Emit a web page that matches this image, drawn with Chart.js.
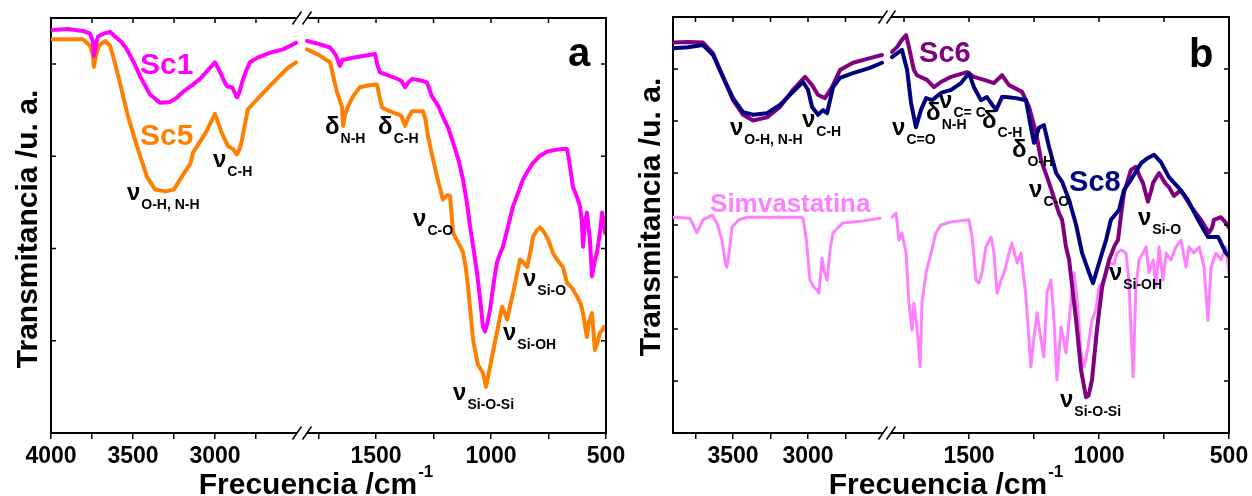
<!DOCTYPE html>
<html>
<head>
<meta charset="utf-8">
<script src="https://cdn.jsdelivr.net/npm/chart.js@4.4.0/dist/chart.umd.min.js"></script>
<style>
  html, body { margin: 0; padding: 0; background: #fff; }
  #wrap { position: relative; width: 1252px; height: 496px; overflow: hidden; }
  canvas { position: absolute; top: 0; }
</style>
</head>
<body>
<div id="wrap">
  <canvas id="panelA" width="626" height="496" style="left:0"></canvas>
  <canvas id="panelB" width="626" height="496" style="left:626px"></canvas>
</div>
<script>
const FONT = '"Liberation Sans", Arial, Helvetica, sans-serif';

// ---- FTIR spectra: [wavenumber (cm-1), transmittance (a.u.)] ----
const sc1 = [
  [4000,4.37],[3900,4.38],[3805,4.36],[3762,4.33],[3745,4.25],[3738,4.09],[3725,4.22],[3713,4.30],
  [3680,4.33],[3640,4.35],[3610,4.30],[3570,4.24],[3537,4.16],[3490,4.00],[3457,3.87],[3420,3.75],
  [3396,3.67],[3335,3.58],[3274,3.59],[3230,3.64],[3195,3.70],[3140,3.77],[3091,3.84],[3040,3.94],
  [3000,4.02],[2970,3.92],[2945,3.82],[2927,3.76],[2896,3.75],[2866,3.64],[2850,3.70],[2835,3.80],
  [2810,3.93],[2787,4.02],[2740,4.07],[2683,4.11],[2630,4.14],[2585,4.16],[2540,4.20],[2506,4.23],
  [1800,4.25],[1750,4.22],[1700,4.18],[1675,4.10],[1657,3.98],[1645,4.05],[1635,4.05],[1600,4.07],
  [1550,4.09],[1504,4.11],[1495,4.00],[1483,3.91],[1450,3.88],[1426,3.86],[1390,3.82],[1374,3.75],
  [1360,3.80],[1343,3.84],[1300,3.82],[1278,3.80],[1257,3.65],[1230,3.55],[1209,3.43],[1185,3.30],
  [1165,3.15],[1140,2.95],[1122,2.75],[1105,2.50],[1091,2.24],[1075,1.98],[1061,1.74],[1045,1.40],
  [1035,1.15],[1026,1.10],[1015,1.20],[1004,1.34],[990,1.60],[974,1.85],[960,1.95],[948,2.02],
  [925,2.25],[904,2.46],[880,2.62],[861,2.75],[840,2.84],[817,2.93],[790,3.00],[757,3.05],
  [720,3.07],[690,3.08],[670,3.08],[660,2.95],[644,2.67],[625,2.55],[613,2.46],[605,2.30],
  [600,2.02],[590,2.30],[583,2.39],[570,2.10],[561,1.70],[550,1.85],[539,1.96],[525,2.20],
  [517,2.39],[510,2.30],[504,2.17],[500,2.20]
];
const sc5 = [
  [4000,4.27],[3900,4.27],[3805,4.27],[3762,4.20],[3745,4.10],[3738,3.97],[3725,4.10],[3707,4.20],
  [3670,4.25],[3640,4.20],[3622,4.09],[3580,3.80],[3530,3.43],[3476,3.11],[3415,2.78],[3366,2.64],
  [3300,2.62],[3250,2.64],[3213,2.75],[3150,2.92],[3134,3.04],[3055,3.26],[3000,3.46],[2960,3.26],
  [2921,3.11],[2890,3.08],[2866,3.02],[2850,3.08],[2835,3.18],[2800,3.51],[2726,3.65],[2646,3.80],
  [2561,3.95],[2506,4.02],
  [1800,4.16],[1750,4.10],[1700,4.02],[1670,3.70],[1648,3.54],[1643,3.33],[1635,3.45],[1622,3.54],
  [1600,3.65],[1570,3.75],[1530,3.77],[1496,3.78],[1485,3.65],[1474,3.53],[1440,3.49],[1409,3.46],
  [1390,3.44],[1374,3.33],[1360,3.42],[1343,3.49],[1296,3.49],[1285,3.40],[1274,3.22],[1255,3.00],
  [1235,2.78],[1209,2.53],[1190,2.58],[1178,2.57],[1165,2.17],[1140,2.05],[1122,1.96],[1110,1.80],
  [1100,1.59],[1078,1.01],[1057,0.74],[1035,0.65],[1028,0.58],[1022,0.50],[1012,0.62],[1004,0.72],
  [990,0.90],[974,1.09],[952,1.37],[940,1.30],[930,1.23],[915,1.40],[904,1.52],[874,1.88],
  [860,1.85],[843,1.80],[830,1.95],[817,2.13],[800,2.20],[787,2.23],[770,2.18],[752,2.10],
  [730,1.95],[713,1.88],[687,1.80],[670,1.63],[650,1.58],[626,1.48],[610,1.40],[600,1.30],
  [583,1.04],[575,1.20],[561,1.30],[548,0.90],[535,1.00],[526,1.09],[515,1.12],[509,1.15],[500,1.12]
];
const sc6 = [
  [3900,7.51],[3800,7.52],[3700,7.51],[3633,7.30],[3567,6.85],[3500,6.40],[3433,6.12],[3367,6.01],
  [3273,6.07],[3187,6.27],[3100,6.60],[3020,6.85],[2973,6.69],[2933,6.50],[2887,6.44],[2840,6.65],
  [2787,6.98],[2700,7.12],[2587,7.21],[2507,7.27],
  [1796,7.33],[1777,7.42],[1758,7.56],[1742,7.65],[1731,7.42],[1712,6.98],[1700,6.88],[1662,6.79],
  [1635,6.65],[1608,6.75],[1569,6.85],[1508,6.94],[1481,6.85],[1442,6.79],[1404,6.73],[1373,6.88],
  [1346,6.69],[1296,6.56],[1269,6.27],[1242,5.77],[1223,5.25],[1192,4.81],[1154,4.23],[1142,4.10],
  [1127,3.58],[1115,3.33],[1088,2.17],[1069,1.21],[1050,0.69],[1040,0.72],[1027,1.02],[1008,1.98],
  [988,2.81],[961,3.33],[940,3.60],[927,3.71],[915,4.20],[904,4.62],[877,5.06],[858,5.12],
  [845,4.95],[831,4.81],[812,4.45],[800,4.65],[792,4.81],[769,5.00],[745,4.80],[731,4.73],
  [712,4.56],[685,4.67],[646,4.35],[608,4.10],[577,3.85],[565,3.95],[558,4.10],[531,4.15],
  [512,4.04],[500,3.95]
];
const sc8 = [
  [3900,7.40],[3800,7.42],[3700,7.46],[3633,7.27],[3567,6.85],[3500,6.44],[3433,6.17],[3367,6.12],
  [3273,6.15],[3187,6.31],[3100,6.56],[3033,6.75],[3000,6.60],[2973,6.27],[2933,6.12],[2900,6.21],
  [2873,6.15],[2833,6.65],[2787,6.83],[2700,6.92],[2587,7.02],[2507,7.12],
  [1796,7.23],[1758,7.37],[1738,6.98],[1723,6.35],[1704,5.88],[1685,6.21],[1665,6.44],[1642,6.40],
  [1608,6.54],[1569,6.60],[1531,6.73],[1500,6.92],[1481,6.65],[1454,6.40],[1431,6.46],[1396,6.21],
  [1373,6.46],[1358,6.46],[1319,6.44],[1281,6.40],[1262,5.88],[1250,5.58],[1231,5.87],[1212,5.92],
  [1192,5.50],[1165,5.00],[1142,4.83],[1115,4.48],[1088,4.00],[1065,3.46],[1038,3.08],[1023,2.88],
  [1000,3.27],[973,3.71],[954,4.10],[923,4.29],[904,4.67],[877,4.87],[838,5.19],[812,5.29],
  [788,5.35],[762,5.21],[731,4.92],[696,4.73],[658,4.48],[619,4.10],[581,3.77],[542,3.77],
  [512,3.46],[500,3.40]
];
const simvastatina = [
  [3900,4.15],[3787,4.13],[3740,3.85],[3700,4.10],[3640,4.19],[3607,4.04],[3573,3.70],[3550,3.25],
  [3540,3.19],[3520,3.60],[3507,3.96],[3460,4.10],[3407,4.15],[3200,4.15],[3040,4.15],[3033,4.13],
  [3010,3.70],[2987,2.94],[2960,2.80],[2940,2.75],[2927,2.69],[2907,3.36],[2890,3.10],[2873,2.94],
  [2853,3.52],[2833,3.85],[2767,4.04],[2653,4.07],[2520,4.13],
  [1796,4.15],[1781,4.23],[1769,3.71],[1758,3.85],[1742,3.46],[1731,2.50],[1719,1.98],[1712,2.50],
  [1700,2.04],[1688,1.27],[1681,2.50],[1665,3.08],[1646,3.46],[1627,3.85],[1608,4.00],[1569,4.06],
  [1500,4.10],[1488,3.77],[1473,2.94],[1462,2.88],[1450,3.08],[1435,3.58],[1415,3.77],[1404,3.46],
  [1392,2.69],[1385,2.80],[1377,2.94],[1365,3.08],[1346,3.46],[1335,3.65],[1315,3.27],[1300,3.46],
  [1281,2.62],[1262,1.27],[1250,1.85],[1238,2.31],[1223,1.79],[1212,1.46],[1200,2.69],[1185,2.94],
  [1173,2.17],[1162,1.02],[1146,2.04],[1127,1.54],[1115,2.17],[1096,3.08],[1085,2.62],[1069,1.54],
  [1058,1.27],[1046,1.54],[1027,2.17],[1012,2.37],[1000,2.81],[981,2.94],[961,3.27],[942,3.25],
  [931,3.46],[915,3.52],[896,3.46],[885,2.94],[869,1.08],[858,2.81],[846,3.33],[831,3.46],
  [819,3.58],[808,3.08],[792,3.33],[781,2.81],[769,3.58],[754,2.94],[742,3.46],[723,3.33],
  [704,3.58],[685,3.71],[665,3.19],[654,3.58],[635,3.46],[615,3.58],[596,3.19],[581,2.17],
  [569,3.19],[550,3.46],[531,3.33],[512,3.58],[500,3.08]
];

// ---- axis ticks ----
const ticksA  = [4000,3750,3500,3250,3000,2750,1750,1500,1250,1000,750,500];
const labelsA = [4000,3500,3000,1500,1000,500];
const ticksB  = [3750,3500,3250,3000,2750,1750,1500,1250,1000,750,500];
const labelsB = [3500,3000,1500,1000,500];

// broken x axis: [high, low, start fraction, end fraction] of the plot width
const segmentsA = [[4000,2500,0,0.4432],[1800,500,0.4613,1]];
const segmentsB = [[3900,2500,0,0.3777],[1800,500,0.3921,1]];

// band assignments: [symbol, subscript, wavenumber, transmittance]
const bandsA = [
  ['ν','O-H, N-H',3537,2.53],['ν','C-H',3012,2.88],['δ','N-H',1722,3.24],['δ','C-H',1491,3.24],
  ['ν','C-O',1339,2.24],['ν','Si-O',861,1.59],['ν','Si-OH',948,1.01],['ν','Si-O-Si',1165,0.36]
];
const bandsB = [
  ['ν','O-H, N-H',3520,5.73],['ν','C-H',3040,5.88],['ν','C=O',1796,5.73],['δ','N-H',1665,6.02],
  ['ν','C= C',1615,6.25],['δ','C-H',1450,5.87],['δ','O-H',1335,5.31],['ν','C-O',1269,4.54],
  ['ν','Si-O',850,4.00],['ν','Si-OH',962,2.94],['ν','Si-O-Si',1150,0.50]
];

// series names drawn inside the plots: [text, colour, wavenumber, transmittance, size]
const namesA = [['Sc1','#ff00ff',3457,3.89,30],['Sc5','#ff8000',3457,3.12,30],['a','#000',665,3.98,40]];
const namesB = [['Sc6','#800080',1692,7.13,29],['Sc8','#000080',1115,4.65,29],
                ['Simvastatina','#ff80ff',3653,4.25,26],['b','#000',654,7.04,40]];

// Linear scale whose range is split into separate segments (axis break)
class BrokenScale extends Chart.LinearScale {
  getPixelForValue(value) {
    if (value === null || value === undefined || isNaN(value)) return NaN;
    const segs = this.options.segments;
    const w = this.right - this.left;
    for (const [hi, lo, f0, f1] of segs) {
      if (value <= hi && value >= lo) {
        return this.left + (f0 + (hi - value) / (hi - lo) * (f1 - f0)) * w;
      }
    }
    return NaN;
  }
}
BrokenScale.id = 'broken';
BrokenScale.defaults = Chart.LinearScale.defaults;
Chart.register(BrokenScale);

// insert a null point where the spectrum jumps across the axis break
function toPoints(pairs, segs) {
  const out = [];
  let prev = -1;
  pairs.forEach(([x, y]) => {
    const s = segs.findIndex(([hi, lo]) => x <= hi && x >= lo);
    if (prev !== -1 && s !== prev) out.push({ x: (segs[prev][1] + segs[s][0]) / 2, y: null });
    out.push({ x, y });
    prev = s;
  });
  return out;
}

function decor(cfg) {
  return {
    id: 'decor',
    afterDraw(chart) {
      const { ctx, chartArea: a, scales: { x, y } } = chart;
      ctx.save();
      ctx.strokeStyle = '#000';
      ctx.lineWidth = 2;
      // top and right frame
      ctx.beginPath();
      ctx.moveTo(a.left - 1, a.top);
      ctx.lineTo(a.right, a.top);
      ctx.lineTo(a.right, a.bottom + 1);
      ctx.stroke();
      // inward ticks on the top, left and right sides
      ctx.lineWidth = 1.5;
      ctx.beginPath();
      x.ticks.forEach(t => {
        const px = x.getPixelForValue(t.value);
        ctx.moveTo(px, a.top); ctx.lineTo(px, a.top + 5);
      });
      for (let v = 1; v < cfg.yMax; v++) {
        const py = y.getPixelForValue(v);
        ctx.moveTo(a.left, py); ctx.lineTo(a.left + 5, py);
        ctx.moveTo(a.right, py); ctx.lineTo(a.right - 5, py);
      }
      ctx.stroke();
      // axis break marks
      const x1 = x.getPixelForValue(cfg.segments[0][1]);
      const x2 = x.getPixelForValue(cfg.segments[1][0]);
      [a.top, a.bottom].forEach(yy => {
        ctx.fillStyle = '#fff';
        ctx.fillRect(x1, yy - 3, x2 - x1, 6);
        ctx.beginPath();
        [x1, x2].forEach(xx => { ctx.moveTo(xx - 4.5, yy + 6.5); ctx.lineTo(xx + 4.5, yy - 6.5); });
        ctx.lineWidth = 1.5;
        ctx.stroke();
      });

      ctx.fillStyle = '#000';
      ctx.textBaseline = 'alphabetic';
      // y title
      ctx.save();
      ctx.translate(cfg.yTitle[0], cfg.yTitle[1]);
      ctx.rotate(-Math.PI / 2);
      ctx.textAlign = 'center';
      ctx.font = `bold 30px ${FONT}`;
      ctx.fillText('Transmitancia /u. a.', 0, 0);
      ctx.restore();
      // x title with superscript
      ctx.textAlign = 'left';
      ctx.font = `bold 30px ${FONT}`;
      const main = 'Frecuencia /cm';
      const w1 = ctx.measureText(main).width;
      ctx.font = `bold 17px ${FONT}`;
      const w2 = ctx.measureText('-1').width;
      const sx = cfg.xTitle[0] - (w1 + w2 + 1) / 2;
      ctx.font = `bold 30px ${FONT}`;
      ctx.fillText(main, sx, cfg.xTitle[1]);
      ctx.font = `bold 17px ${FONT}`;
      ctx.fillText('-1', sx + w1 + 1, cfg.xTitle[1] - 17);

      // series names and panel letter
      cfg.names.forEach(([txt, col, wn, v, size]) => {
        ctx.fillStyle = col;
        ctx.font = `bold ${size}px ${FONT}`;
        ctx.fillText(txt, x.getPixelForValue(wn), y.getPixelForValue(v));
      });
      // band assignments
      ctx.fillStyle = '#000';
      cfg.bands.forEach(([sym, sub, wn, v]) => {
        const px = x.getPixelForValue(wn), py = y.getPixelForValue(v);
        ctx.font = `bold 24px ${FONT}`;
        ctx.fillText(sym, px, py);
        const ws = ctx.measureText(sym).width;
        ctx.font = `bold 14px ${FONT}`;
        ctx.fillText(sub, px + ws + 1, py + 9);
      });
      ctx.restore();
    }
  };
}

function makePanel(id, cfg) {
  return new Chart(document.getElementById(id), {
    type: 'line',
    data: {
      datasets: cfg.series.map(s => ({
        label: s.name,
        data: toPoints(s.values, cfg.segments),
        borderColor: s.color,
        borderWidth: s.width,
        pointRadius: 0,
        tension: 0,
        fill: false,
        spanGaps: false,
        borderJoinStyle: 'round',
        borderCapStyle: 'round'
      }))
    },
    options: {
      responsive: false,
      animation: false,
      events: [],
      layout: { padding: cfg.padding },
      plugins: { legend: { display: false }, tooltip: { enabled: false } },
      scales: {
        x: {
          type: 'broken',
          segments: cfg.segments,
          min: 500,
          max: cfg.segments[0][0],
          afterBuildTicks: sc => { sc.ticks = cfg.ticks.map(v => ({ value: v })); },
          afterFit: sc => { sc.height = 63; sc.paddingLeft = 0; sc.paddingRight = 0; },
          ticks: {
            autoSkip: false,
            maxRotation: 0,
            padding: 4,
            color: '#000',
            font: { family: FONT, size: 23, weight: 'bold' },
            callback: v => (cfg.labels.includes(v) ? String(v) : '')
          },
          grid: { display: true, drawOnChartArea: false, drawTicks: true, tickLength: 6, color: '#000', lineWidth: 1.5 },
          border: { display: true, color: '#000', width: 2 }
        },
        y: {
          type: 'linear',
          min: 0,
          max: cfg.yMax,
          afterFit: sc => { sc.width = cfg.yWidth; sc.paddingTop = 0; sc.paddingBottom = 0; },
          ticks: { display: false, stepSize: 1 },
          grid: { display: false },
          border: { display: true, color: '#000', width: 2 }
        }
      }
    },
    plugins: [decor(cfg)]
  });
}

makePanel('panelA', {
  series: [
    { name: 'Sc1', values: sc1, color: '#ff00ff', width: 4 },
    { name: 'Sc5', values: sc5, color: '#ff8000', width: 4 }
  ],
  segments: segmentsA, ticks: ticksA, labels: labelsA,
  yMax: 4.5, yWidth: 51, padding: { left: 0, right: 20, top: 18, bottom: 0 },
  yTitle: [37, 229], xTitle: [316, 494],
  names: namesA, bands: bandsA
});

makePanel('panelB', {
  series: [
    { name: 'Sc8', values: sc8, color: '#000080', width: 4 },
    { name: 'Sc6', values: sc6, color: '#800080', width: 4 },
    { name: 'Simvastatina', values: simvastatina, color: '#ff80ff', width: 3 }
  ],
  segments: segmentsB, ticks: ticksB, labels: labelsB,
  yMax: 8, yWidth: 47, padding: { left: 0, right: 23, top: 17, bottom: 0 },
  yTitle: [34, 217], xTitle: [320, 494],
  names: namesB, bands: bandsB
});
</script>
</body>
</html>
